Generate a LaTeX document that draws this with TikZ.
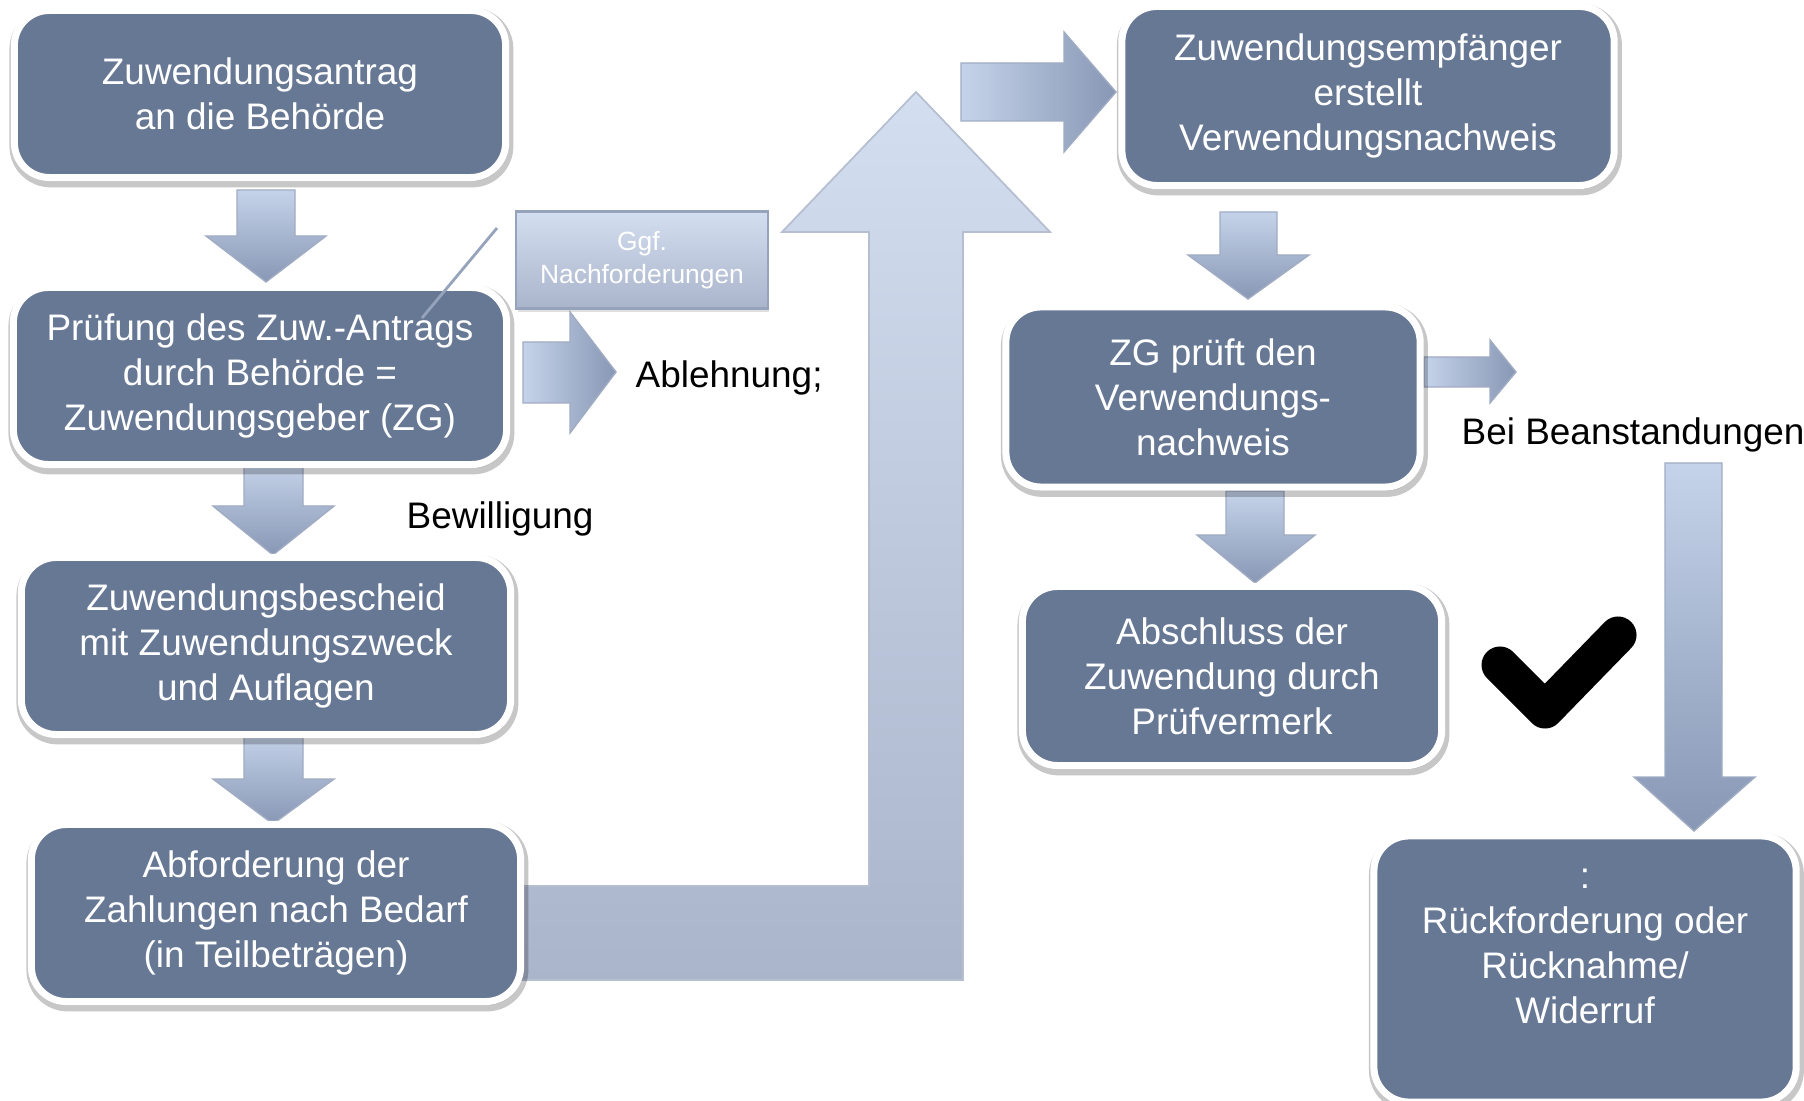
\documentclass[tikz,border=0pt]{standalone}
\usepackage{fontspec}
\setmainfont{Liberation Sans}
\usetikzlibrary{shadows}
\definecolor{boxblue}{RGB}{103,120,149}
\definecolor{arrlight}{RGB}{197,211,234}
\definecolor{arrdark}{RGB}{136,151,180}
\definecolor{biglight}{RGB}{211,222,240}
\definecolor{bigdark}{RGB}{170,180,203}
\definecolor{noteline}{RGB}{150,163,188}

\begin{document}
\begin{tikzpicture}[x=0.01cm,y=-0.01cm,
  stepbox/.style={rectangle,rounded corners=0.35cm,fill=boxblue,draw=white,line width=2pt,
    text=white,align=center,inner sep=0pt,font=\fontsize{10.5}{12.8}\selectfont,
    drop shadow={opacity=0.22,shadow xshift=0.4pt,shadow yshift=-1pt,fill=black,draw=black,line width=3.6pt}},
  notebox/.style={rectangle,top color=biglight,bottom color=bigdark,draw=noteline,line width=0.6pt,
    text=white,align=center,inner sep=0pt,font=\fontsize{7.5}{9.5}\selectfont,
    drop shadow={opacity=0.25,shadow xshift=0.5pt,shadow yshift=-1pt}},
  downarr/.style={top color=arrlight,bottom color=arrdark,draw=arrdark!80,line width=0.4pt},
  rightarr/.style={left color=arrlight,right color=arrdark,draw=arrdark!80,line width=0.4pt},
  txtlabel/.style={anchor=west,inner sep=0pt,font=\fontsize{10.5}{12.8}\selectfont}]

\useasboundingbox (0,0) rectangle (1804,1101);

\draw[top color=biglight,bottom color=bigdark,draw=noteline!70,line width=0.5pt] (520,886) -- (869,886) -- (869,232) -- (782,232) -- (916,92) -- (1050,232) -- (963,232) -- (963,980) -- (520,980) -- cycle;

\draw[downarr] (237,190) -- (295,190) -- (295,236) -- (326,236) -- (266,282) -- (206,236) -- (237,236) -- cycle;
\draw[downarr] (244,463) -- (303,463) -- (303,506) -- (334,506) -- (273,555) -- (213,506) -- (244,506) -- cycle;
\draw[downarr] (244,732) -- (303,732) -- (303,779) -- (334,779) -- (273,824) -- (213,779) -- (244,779) -- cycle;
\draw[downarr] (1220,212) -- (1277,212) -- (1277,255) -- (1309,255) -- (1248,299) -- (1188,255) -- (1220,255) -- cycle;
\draw[downarr] (1226,491) -- (1284,491) -- (1284,535) -- (1315,535) -- (1255,583) -- (1197,535) -- (1226,535) -- cycle;
\draw[downarr] (1665,463) -- (1722,463) -- (1722,777) -- (1755,777) -- (1694,831) -- (1634,777) -- (1665,777) -- cycle;

\draw[rightarr] (523,342) -- (570,342) -- (570,312) -- (616,372) -- (570,433) -- (570,403) -- (523,403) -- cycle;
\draw[rightarr] (961,63) -- (1064,63) -- (1064,32) -- (1116,92) -- (1064,152) -- (1064,121) -- (961,121) -- cycle;
\draw[rightarr] (1424,357) -- (1490,357) -- (1490,340) -- (1516,372) -- (1490,403) -- (1490,387) -- (1424,387) -- cycle;

\node[stepbox,minimum width=4.91cm,minimum height=1.67cm] (antrag) at (260,94) {Zuwendungsantrag\\an die Behörde};
\node[stepbox,minimum width=4.93cm,minimum height=1.77cm] (pruefung) at (260,376) {Prüfung des Zuw.-Antrags\\durch Behörde =\\Zuwendungsgeber (ZG)};
\node[stepbox,minimum width=4.89cm,minimum height=1.77cm] (bescheid) at (266,646) {Zuwendungsbescheid\\mit Zuwendungszweck\\und Auflagen};
\node[stepbox,minimum width=4.89cm,minimum height=1.77cm] (abford) at (276,913) {Abforderung der\\Zahlungen nach Bedarf\\(in Teilbeträgen)};
\node[stepbox,minimum width=4.92cm,minimum height=1.79cm] (nachweis) at (1368,96) {Zuwendungsempfänger\\erstellt\\Verwendungsnachweis};
\node[stepbox,minimum width=4.14cm,minimum height=1.80cm] (zgprueft) at (1213,397) {ZG prüft den\\Verwendungs-\\nachweis};
\node[stepbox,minimum width=4.19cm,minimum height=1.79cm] (abschluss) at (1232,676) {Abschluss der\\Zuwendung durch\\Prüfvermerk};
\node[stepbox,minimum width=4.22cm,minimum height=2.66cm] (rueckf) at (1585,969) {:\\Rückforderung oder\\Rücknahme/\\Widerruf\\\mbox{}};

\node[notebox,minimum width=2.51cm,minimum height=0.97cm] (ggf) at (642,260) {Ggf.\\Nachforderungen};
\coordinate (n1) at (497,228);
\coordinate (n2) at (422,318);
\draw[noteline,line width=0.8pt] (n1) -- (n2);

\node[txtlabel] (ablehnung) at (635,378) {Ablehnung;};
\node[txtlabel] (bewilligung) at (406,519) {Bewilligung};
\node[txtlabel] (beanst) at (1461,435) {Bei Beanstandungen};

\draw[line width=0.37cm,line cap=round,line join=round] (1500,665) -- (1545,710) -- (1618,635);

\end{tikzpicture}
\end{document}
